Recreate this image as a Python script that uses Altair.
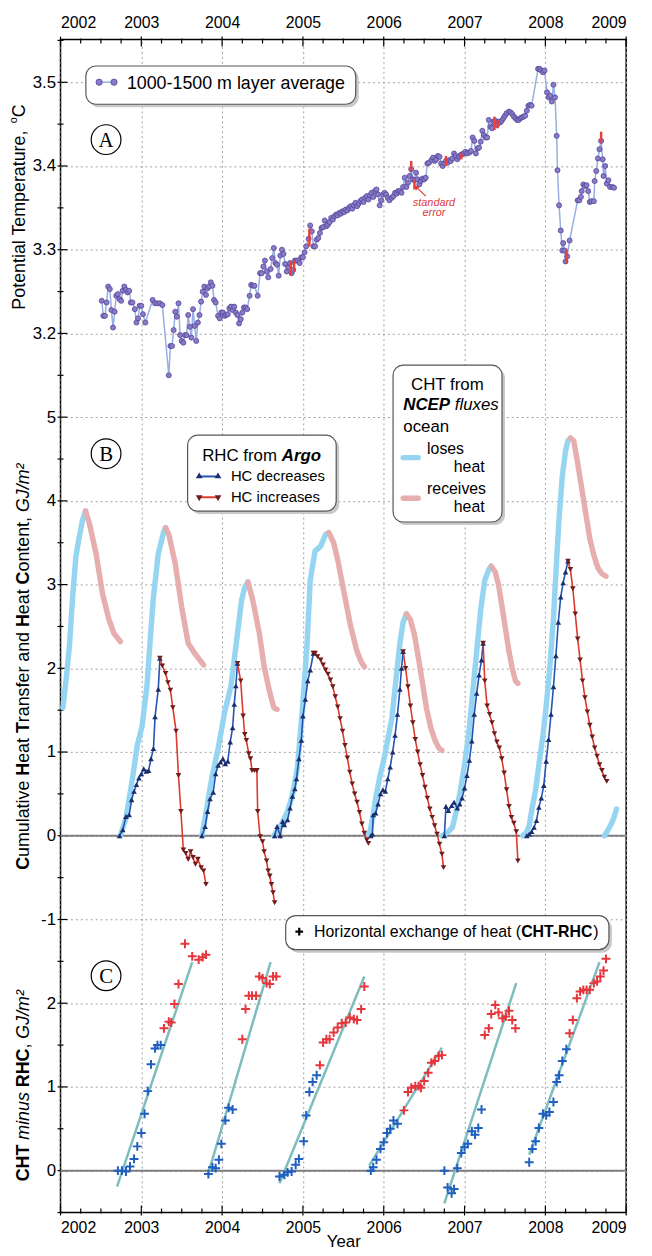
import altair as alt
import pandas as pd

# ---------------- Panel A: 1000-1500 m layer average potential temperature ----------------
a_year = [2002.51, 2002.53, 2002.55, 2002.57, 2002.59, 2002.61, 2002.63, 2002.65, 2002.67, 2002.69,
          2002.71, 2002.73, 2002.75, 2002.77, 2002.79, 2002.81, 2002.83, 2002.85, 2002.87, 2002.89,
          2002.92, 2002.94, 2002.96, 2002.98, 2003.00, 2003.02, 2003.05, 2003.14, 2003.17, 2003.20,
          2003.23, 2003.26, 2003.34, 2003.36, 2003.38, 2003.40, 2003.42, 2003.44, 2003.46, 2003.48,
          2003.50, 2003.52, 2003.54, 2003.56, 2003.58, 2003.60, 2003.62, 2003.64, 2003.66, 2003.68,
          2003.70, 2003.72, 2003.74, 2003.76, 2003.78, 2003.80, 2003.82, 2003.84, 2003.86, 2003.88,
          2003.90, 2003.92, 2003.95, 2003.97, 2003.99, 2004.01, 2004.03, 2004.05, 2004.07, 2004.09,
          2004.11, 2004.13, 2004.15, 2004.17, 2004.19, 2004.21, 2004.23, 2004.25, 2004.27, 2004.29,
          2004.31, 2004.34, 2004.36, 2004.38, 2004.40, 2004.44, 2004.47, 2004.49, 2004.51, 2004.53,
          2004.55, 2004.57, 2004.60, 2004.62, 2004.64, 2004.66, 2004.68, 2004.70, 2004.72, 2004.74,
          2004.76, 2004.78, 2004.80, 2004.82, 2004.84, 2004.86, 2004.88, 2004.90, 2004.92, 2004.94,
          2004.96, 2004.98, 2005.00, 2005.02, 2005.04, 2005.07, 2005.09, 2005.11, 2005.13, 2005.15,
          2005.17, 2005.19, 2005.21, 2005.23, 2005.25, 2005.27, 2005.29, 2005.31, 2005.33, 2005.35,
          2005.37, 2005.39, 2005.41, 2005.43, 2005.45, 2005.47, 2005.49, 2005.51, 2005.53, 2005.55,
          2005.57, 2005.59, 2005.61, 2005.63, 2005.65, 2005.67, 2005.69, 2005.71, 2005.73, 2005.75,
          2005.77, 2005.79, 2005.81, 2005.83, 2005.85, 2005.87, 2005.89, 2005.91, 2005.93, 2005.95,
          2005.97, 2005.99, 2006.01, 2006.03, 2006.05, 2006.07, 2006.10, 2006.12, 2006.14, 2006.16,
          2006.18, 2006.20, 2006.22, 2006.24, 2006.26, 2006.28, 2006.30, 2006.32, 2006.34, 2006.36,
          2006.38, 2006.40, 2006.42, 2006.44, 2006.46, 2006.48, 2006.50, 2006.52, 2006.54, 2006.56,
          2006.59, 2006.61, 2006.63, 2006.65, 2006.67, 2006.69, 2006.71, 2006.73, 2006.75, 2006.77,
          2006.79, 2006.81, 2006.83, 2006.85, 2006.87, 2006.89, 2006.91, 2006.93, 2006.95, 2006.97,
          2006.99, 2007.01, 2007.03, 2007.06, 2007.08, 2007.10, 2007.12, 2007.14, 2007.16, 2007.18,
          2007.20, 2007.22, 2007.24, 2007.26, 2007.28, 2007.30, 2007.32, 2007.34, 2007.36, 2007.38,
          2007.40, 2007.42, 2007.44, 2007.46, 2007.48, 2007.50, 2007.52, 2007.55, 2007.57, 2007.59,
          2007.61, 2007.63, 2007.65, 2007.67, 2007.69, 2007.71, 2007.73, 2007.75, 2007.77, 2007.79,
          2007.81, 2007.83, 2007.91, 2007.93, 2007.95, 2007.97, 2007.99, 2008.02, 2008.04, 2008.06,
          2008.08, 2008.10, 2008.12, 2008.14, 2008.15, 2008.17, 2008.19, 2008.21, 2008.22, 2008.24,
          2008.25, 2008.27, 2008.30, 2008.40, 2008.42, 2008.44, 2008.45, 2008.47, 2008.49, 2008.51,
          2008.53, 2008.55, 2008.57, 2008.60, 2008.61, 2008.63, 2008.65, 2008.67, 2008.69, 2008.71,
          2008.72, 2008.74, 2008.76, 2008.78, 2008.80, 2008.83, 2008.85]
a_temp = [3.239, 3.221, 3.221, 3.237, 3.256, 3.253, 3.228, 3.207, 3.226, 3.245,
          3.247, 3.241, 3.239, 3.251, 3.256, 3.252, 3.249, 3.251, 3.237, 3.237,
          3.229, 3.213, 3.218, 3.233, 3.233, 3.223, 3.213, 3.240, 3.236, 3.236,
          3.236, 3.234, 3.150, 3.185, 3.185, 3.204, 3.226, 3.220, 3.236, 3.198,
          3.191, 3.189, 3.198, 3.198, 3.222, 3.208, 3.195, 3.229, 3.209, 3.191,
          3.213, 3.222, 3.238, 3.250, 3.256, 3.246, 3.254, 3.256, 3.261, 3.257,
          3.240, 3.237, 3.221, 3.218, 3.225, 3.225, 3.221, 3.222, 3.223, 3.230,
          3.232, 3.228, 3.232, 3.225, 3.222, 3.212, 3.217, 3.225, 3.231, 3.231,
          3.229, 3.245, 3.258, 3.257, 3.257, 3.245, 3.272, 3.272, 3.280, 3.287,
          3.274, 3.267, 3.277, 3.290, 3.302, 3.284, 3.282, 3.269, 3.293, 3.300,
          3.295, 3.283, 3.274, 3.279, 3.284, 3.272, 3.276, 3.287, 3.287, 3.287,
          3.284, 3.291, 3.291, 3.297, 3.304, 3.313, 3.329, 3.322, 3.304, 3.304,
          3.312, 3.314, 3.320, 3.326, 3.327, 3.335, 3.328, 3.330, 3.333, 3.338,
          3.336, 3.340, 3.342, 3.341, 3.344, 3.343, 3.346, 3.345, 3.348, 3.347,
          3.350, 3.352, 3.349, 3.353, 3.356, 3.352, 3.355, 3.358, 3.360, 3.357,
          3.362, 3.364, 3.360, 3.365, 3.368, 3.363, 3.370, 3.372, 3.366, 3.353,
          3.359, 3.366, 3.368, 3.366, 3.362, 3.359, 3.362, 3.364, 3.368, 3.367,
          3.370, 3.370, 3.368, 3.375, 3.386, 3.375, 3.380, 3.388, 3.396, 3.384,
          3.383, 3.392, 3.384, 3.378, 3.382, 3.385, 3.384, 3.386, 3.403, 3.404,
          3.407, 3.410, 3.406, 3.408, 3.412, 3.411, 3.403, 3.400, 3.403, 3.406,
          3.404, 3.407, 3.406, 3.409, 3.415, 3.412, 3.408, 3.411, 3.413, 3.414,
          3.415, 3.417, 3.415, 3.416, 3.418, 3.434, 3.430, 3.415, 3.421, 3.422,
          3.429, 3.442, 3.437, 3.434, 3.434, 3.455, 3.447, 3.445, 3.453, 3.454,
          3.449, 3.453, 3.452, 3.454, 3.457, 3.460, 3.463, 3.465, 3.464, 3.462,
          3.459, 3.457, 3.455, 3.455, 3.457, 3.458, 3.459, 3.460, 3.466, 3.472,
          3.473, 3.472, 3.516, 3.516, 3.514, 3.512, 3.514, 3.488, 3.482, 3.484,
          3.477, 3.497, 3.482, 3.436, 3.395, 3.353, 3.323, 3.299, 3.308, 3.299,
          3.286, 3.292, 3.311, 3.359, 3.359, 3.363, 3.370, 3.378, 3.376, 3.377,
          3.370, 3.357, 3.358, 3.358, 3.382, 3.394, 3.409, 3.420, 3.430, 3.408,
          3.388, 3.400, 3.379, 3.383, 3.375, 3.375, 3.374]

err_year = [2004.85, 2004.89, 2005.08, 2006.34, 2006.38, 2006.77, 2006.96, 2007.37, 2007.41, 2008.26, 2008.69]
err_lo = [3.269, 3.274, 3.304, 3.394, 3.372, 3.400, 3.408, 3.443, 3.445, 3.284, 3.428]
err_hi = [3.286, 3.288, 3.325, 3.406, 3.384, 3.412, 3.415, 3.459, 3.455, 3.300, 3.441]

# ---------------- Panel B: cumulative heat transfer (CHT) ----------------
cht_lose_year = [2002.03, 2002.07, 2002.11, 2002.15, 2002.19, 2002.23, 2002.27, 2002.31,
                 2002.74, 2002.81, 2002.89, 2002.95, 2003.01, 2003.07, 2003.11, 2003.15, 2003.21, 2003.28, 2003.30,
                 2003.75, 2003.81, 2003.87, 2003.95, 2004.03, 2004.11, 2004.17, 2004.24, 2004.28, 2004.32,
                 2004.64, 2004.73, 2004.81, 2004.87, 2004.93, 2004.99, 2005.05, 2005.09, 2005.15, 2005.22, 2005.28, 2005.32,
                 2005.80, 2005.83, 2005.86, 2005.90, 2005.95, 2006.00, 2006.05, 2006.10, 2006.15, 2006.20, 2006.24, 2006.28,
                 2006.72, 2006.76, 2006.80, 2006.85, 2006.90, 2006.95, 2007.00, 2007.05, 2007.10, 2007.15, 2007.20, 2007.25, 2007.30, 2007.33,
                 2007.72, 2007.76, 2007.80, 2007.84, 2007.88, 2007.92, 2007.97, 2008.01, 2008.05, 2008.10, 2008.14, 2008.17, 2008.21, 2008.25, 2008.28, 2008.31,
                 2008.73, 2008.77, 2008.81, 2008.85, 2008.88]
cht_lose_val = [1.53, 1.87, 2.26, 2.85, 3.33, 3.56, 3.76, 3.88,
                0.00, 0.21, 0.68, 1.08, 1.31, 1.79, 2.34, 2.85, 3.37, 3.64, 3.68,
                0.00, 0.33, 0.68, 1.04, 1.47, 1.79, 2.26, 2.81, 2.97, 3.03,
                0.00, 0.13, 0.29, 0.49, 0.80, 1.47, 2.26, 3.05, 3.40, 3.46, 3.60, 3.62,
                0.00, 0.05, 0.20, 0.45, 0.70, 0.90, 1.15, 1.40, 1.85, 2.30, 2.55, 2.65,
                0.00, 0.02, 0.05, 0.10, 0.30, 0.55, 0.85, 1.20, 1.70, 2.20, 2.70, 3.05, 3.18, 3.22,
                0.00, 0.03, 0.12, 0.35, 0.55, 0.85, 1.20, 1.55, 1.95, 2.60, 3.30, 3.80, 4.30, 4.60, 4.72, 4.75,
                0.00, 0.06, 0.13, 0.22, 0.32]
cht_gain_year = [2002.31, 2002.36, 2002.44, 2002.52, 2002.60, 2002.66, 2002.74,
                 2003.30, 2003.34, 2003.42, 2003.50, 2003.58, 2003.66, 2003.77,
                 2004.32, 2004.38, 2004.46, 2004.52, 2004.58, 2004.64, 2004.68,
                 2005.32, 2005.38, 2005.43, 2005.48, 2005.53, 2005.58, 2005.63, 2005.67, 2005.72, 2005.76,
                 2006.28, 2006.33, 2006.38, 2006.43, 2006.48, 2006.53, 2006.58, 2006.63, 2006.68, 2006.72,
                 2007.33, 2007.38, 2007.42, 2007.47, 2007.51, 2007.55, 2007.59, 2007.63, 2007.66,
                 2008.31, 2008.35, 2008.40, 2008.45, 2008.50, 2008.55, 2008.60, 2008.65, 2008.70, 2008.75]
cht_gain_val = [3.88, 3.72, 3.37, 2.89, 2.58, 2.42, 2.32,
                3.68, 3.60, 3.25, 2.73, 2.30, 2.18, 2.04,
                3.03, 2.81, 2.42, 2.02, 1.75, 1.53, 1.51,
                3.62, 3.50, 3.30, 3.05, 2.80, 2.55, 2.35, 2.20, 2.08, 2.02,
                2.65, 2.58, 2.40, 2.12, 1.82, 1.52, 1.30, 1.15, 1.05, 1.02,
                3.22, 3.15, 3.00, 2.70, 2.45, 2.20, 2.00, 1.85, 1.82,
                4.75, 4.72, 4.45, 4.15, 3.85, 3.55, 3.35, 3.20, 3.13, 3.10]

# ---------------- Panel B: heat content from Argo (RHC) ----------------
rhc_dec_year = [2002.73, 2002.77, 2002.81, 2002.85, 2002.88, 2002.91, 2002.94, 2002.97, 2003.00, 2003.03, 2003.06, 2003.09, 2003.12, 2003.15, 2003.17, 2003.21, 2003.23,
                2003.75, 2003.79, 2003.82, 2003.85, 2003.89, 2003.92, 2003.95, 2003.98, 2004.01, 2004.04, 2004.07, 2004.10, 2004.13, 2004.15, 2004.17, 2004.19,
                2004.65, 2004.68, 2004.72, 2004.75, 2004.77, 2004.81, 2004.84, 2004.87, 2004.90, 2004.92, 2004.95, 2004.98, 2005.00, 2005.03, 2005.06, 2005.09, 2005.13,
                2005.84, 2005.86, 2005.87, 2005.90, 2005.93, 2005.96, 2005.99, 2006.02, 2006.05, 2006.08, 2006.11, 2006.14, 2006.17, 2006.20, 2006.22, 2006.24,
                2006.75, 2006.77, 2006.80, 2006.84, 2006.87, 2006.91, 2006.94, 2006.97, 2007.00, 2007.03, 2007.06, 2007.09, 2007.12, 2007.15, 2007.18, 2007.21, 2007.23,
                2007.77, 2007.80, 2007.83, 2007.86, 2007.89, 2007.92, 2007.95, 2007.98, 2008.01, 2008.04, 2008.07, 2008.10, 2008.13, 2008.16, 2008.19, 2008.22, 2008.25, 2008.28]
rhc_dec_val = [0.00, 0.07, 0.23, 0.25, 0.43, 0.53, 0.61, 0.69, 0.74, 0.80, 0.77, 0.78, 0.92, 1.04, 1.42, 1.75, 2.12,
               0.00, 0.11, 0.29, 0.44, 0.52, 0.74, 0.84, 0.88, 0.92, 0.86, 0.89, 1.12, 1.29, 1.57, 1.79, 2.06,
               0.00, 0.11, 0.00, 0.17, 0.13, 0.19, 0.33, 0.47, 0.56, 0.68, 0.92, 1.14, 1.43, 1.63, 1.85, 1.98, 2.18,
               0.00, 0.02, 0.25, 0.27, 0.38, 0.50, 0.55, 0.53, 0.68, 0.82, 1.00, 1.20, 1.45, 1.75, 2.00, 2.20,
               0.00, 0.35, 0.30, 0.36, 0.40, 0.33, 0.38, 0.45, 0.57, 0.72, 0.90, 1.13, 1.45, 1.70, 1.92, 2.10, 2.30,
               0.00, 0.02, 0.05, 0.10, 0.18, 0.34, 0.45, 0.60, 0.89, 1.15, 1.45, 1.78, 2.15, 2.55, 2.85, 3.02, 3.15, 3.28]
rhc_inc_year = [2003.23, 2003.26, 2003.30, 2003.33, 2003.36, 2003.39, 2003.43, 2003.46, 2003.49, 2003.52, 2003.55, 2003.58, 2003.61, 2003.64, 2003.67, 2003.70, 2003.74, 2003.77, 2003.80,
                2004.19, 2004.23, 2004.26, 2004.28, 2004.30, 2004.33, 2004.35, 2004.37, 2004.40, 2004.43, 2004.44, 2004.47, 2004.50, 2004.52, 2004.55, 2004.57, 2004.59, 2004.61, 2004.63, 2004.65,
                2005.13, 2005.15, 2005.18, 2005.22, 2005.25, 2005.28, 2005.31, 2005.34, 2005.37, 2005.40, 2005.43, 2005.46, 2005.49, 2005.52, 2005.55, 2005.58, 2005.61, 2005.64, 2005.67, 2005.70, 2005.73, 2005.76, 2005.79, 2005.81,
                2006.24, 2006.27, 2006.30, 2006.33, 2006.36, 2006.39, 2006.42, 2006.45, 2006.48, 2006.51, 2006.54, 2006.57, 2006.60, 2006.63, 2006.66, 2006.69, 2006.72, 2006.74,
                2007.23, 2007.25, 2007.28, 2007.31, 2007.34, 2007.37, 2007.40, 2007.43, 2007.46, 2007.49, 2007.52, 2007.55, 2007.58, 2007.61, 2007.64, 2007.66,
                2008.28, 2008.31, 2008.34, 2008.37, 2008.40, 2008.43, 2008.46, 2008.49, 2008.52, 2008.55, 2008.58, 2008.61, 2008.64, 2008.67, 2008.70, 2008.73, 2008.76]
rhc_inc_val = [2.12, 2.03, 1.94, 1.83, 1.74, 1.53, 1.25, 0.72, 0.29, -0.17, -0.21, -0.28, -0.19, -0.26, -0.34, -0.28, -0.38, -0.42, -0.58,
               2.06, 1.85, 1.43, 1.21, 1.14, 0.98, 0.92, 0.78, 0.78, 0.78, 0.29, -0.01, -0.07, -0.19, -0.30, -0.42, -0.48, -0.58, -0.68, -0.80,
               2.18, 2.18, 2.14, 2.10, 2.04, 1.98, 1.93, 1.86, 1.78, 1.66, 1.54, 1.40, 1.25, 1.08, 0.93, 0.76, 0.62, 0.50, 0.40, 0.28, 0.14, 0.03, -0.05, -0.09,
               2.20, 2.00, 1.78, 1.55, 1.35, 1.15, 1.00, 0.85, 0.72, 0.58, 0.45, 0.32, 0.22, 0.12, 0.02, -0.10, -0.22, -0.38,
               2.30, 1.85, 1.55, 1.45, 1.35, 1.22, 1.12, 1.05, 0.92, 0.75, 0.55, 0.35, 0.22, 0.15, 0.05, -0.30,
               3.28, 3.18, 2.95, 2.65, 2.35, 2.10, 1.85, 1.65, 1.48, 1.32, 1.18, 1.05, 0.95, 0.85, 0.78, 0.70, 0.65]

# ---------------- Panel C: CHT minus RHC ----------------
c_dec_year = [2002.71, 2002.76, 2002.81, 2002.86, 2002.91, 2002.95, 2003.00, 2003.04, 2003.08, 2003.12, 2003.17, 2003.20, 2003.24,
              2003.83, 2003.88, 2003.92, 2003.96, 2003.99, 2004.04, 2004.08, 2004.13,
              2004.71, 2004.77, 2004.81, 2004.86, 2004.91, 2004.95, 2005.01, 2005.04, 2005.08, 2005.12, 2005.17,
              2005.84, 2005.87, 2005.91, 2005.96, 2006.00, 2006.04, 2006.08, 2006.12, 2006.17,
              2006.75, 2006.79, 2006.84, 2006.87, 2006.91, 2006.96, 2007.00, 2007.04, 2007.09, 2007.13, 2007.17, 2007.21,
              2007.80, 2007.84, 2007.88, 2007.92, 2007.97, 2008.01, 2008.05, 2008.10, 2008.14, 2008.17, 2008.21, 2008.26]
c_dec_val = [0.00, 0.00, -0.01, 0.05, 0.14, 0.29, 0.45, 0.68, 0.95, 1.27, 1.46, 1.50, 1.50,
             -0.04, 0.04, 0.03, 0.13, 0.32, 0.60, 0.75, 0.73,
             -0.07, -0.05, -0.02, -0.01, 0.07, 0.14, 0.35, 0.66, 0.94, 1.06, 1.14,
             0.00, 0.04, 0.13, 0.26, 0.34, 0.45, 0.50, 0.60, 0.56,
             0.00, -0.20, -0.27, -0.22, 0.03, 0.21, 0.28, 0.32, 0.47, 0.43, 0.51, 0.73,
             0.10, 0.26, 0.35, 0.51, 0.68, 0.66, 0.70, 0.82, 1.06, 1.14, 1.31, 1.45]
c_inc_year = [2003.28, 2003.34, 2003.37, 2003.41, 2003.46, 2003.54, 2003.63, 2003.71, 2003.76, 2003.80,
              2004.25, 2004.29, 2004.33, 2004.37, 2004.42, 2004.46, 2004.50, 2004.55, 2004.59, 2004.63, 2004.67,
              2005.21, 2005.25, 2005.29, 2005.33, 2005.38, 2005.43, 2005.48, 2005.53, 2005.58, 2005.63, 2005.67, 2005.72, 2005.76,
              2006.25, 2006.30, 2006.34, 2006.39, 2006.43, 2006.46, 2006.50, 2006.55, 2006.59, 2006.63, 2006.68, 2006.72,
              2007.25, 2007.30, 2007.33, 2007.38, 2007.42, 2007.47, 2007.51, 2007.55, 2007.59, 2007.63,
              2008.30, 2008.34, 2008.39, 2008.43, 2008.47, 2008.51, 2008.55, 2008.60, 2008.64, 2008.68, 2008.72, 2008.75]
c_inc_val = [1.70, 1.78, 1.77, 1.99, 2.23, 2.71, 2.56, 2.52, 2.55, 2.58,
             1.57, 1.93, 2.09, 2.09, 2.09, 2.32, 2.30, 2.24, 2.23, 2.32, 2.32,
             1.26, 1.53, 1.57, 1.57, 1.65, 1.71, 1.76, 1.77, 1.83, 1.81, 1.80, 1.93, 2.20,
             0.72, 0.94, 0.99, 1.01, 1.01, 0.99, 1.07, 1.17, 1.29, 1.31, 1.37, 1.38,
             1.62, 1.70, 1.87, 1.98, 1.89, 1.82, 1.84, 1.91, 1.80, 1.70,
             1.64, 1.80, 2.06, 2.14, 2.16, 2.16, 2.16, 2.24, 2.26, 2.32, 2.39, 2.53]
reg_x1 = [2002.70, 2003.83, 2004.71, 2005.82, 2006.75, 2007.80]
reg_y1 = [-0.19, -0.03, -0.15, 0.06, -0.39, 0.19]
reg_x2 = [2003.63, 2004.60, 2005.76, 2006.72, 2007.64, 2008.67]
reg_y2 = [2.49, 2.49, 2.32, 1.47, 2.24, 2.49]

# ---------------- axes ----------------
year_ticks = [2002, 2003, 2004, 2005, 2006, 2007, 2008, 2009]
y_tick_pos = list(range(14))
y_tick_labels = ["0", "1", "2", "-1", "0", "1", "2", "3", "4", "5", "3.2", "3.3", "3.4", "3.5"]
arrow_from = (2006.52, 3.364)
arrow_to = (2006.40, 3.375)

# ---------------- layout / helpers ----------------
W, H = 571, 1184
FONT = "Liberation Sans"
one = pd.DataFrame({"k": [0]})

AR = {' ': 278, 'a': 556, 'b': 556, 'c': 500, 'd': 556, 'e': 556, 'f': 278, 'g': 556, 'h': 556, 'i': 222,
      'j': 222, 'k': 500, 'l': 222, 'm': 833, 'n': 556, 'o': 556, 'p': 556, 'q': 556, 'r': 333, 's': 500,
      't': 278, 'u': 556, 'v': 500, 'w': 722, 'x': 500, 'y': 500, 'z': 500, 'A': 667, 'C': 722, 'E': 667,
      'G': 778, 'H': 722, 'J': 500, 'N': 722, 'P': 667, 'R': 722, 'T': 611, ',': 278, '.': 278, '/': 278,
      '-': 333, '(': 333, ')': 333, '\u00b2': 333, '+': 584}
ARB = {' ': 278, 'a': 556, 'c': 556, 'e': 556, 'g': 611, 'o': 611, 'r': 389, 'A': 722, 'C': 722, 'E': 667,
       'H': 722, 'N': 722, 'P': 667, 'R': 722, 'T': 611, '-': 333}


def tw(s, size, bold=False):
    tot = 0
    for ch in s:
        if bold and ch in ARB:
            tot += ARB[ch]
        else:
            tot += AR.get(ch, 556)
    return tot * size / 1000.0


def u_a(t):
    return 10.0 + (t - 3.2) * 10.0


def u_b(v):
    return v + 4.0


def segments(xs, gap=0.2):
    ids, k = [], 0
    for i, x in enumerate(xs):
        if i > 0 and x - xs[i - 1] > gap:
            k += 1
        ids.append(k)
    return ids


xsc = alt.Scale(domain=[2002, 2009], nice=False, zero=False)
ysc = alt.Scale(domain=[-0.5, 13.51], nice=False, zero=False)


def ex(f="x"):
    return alt.X(f + ":Q", scale=xsc, axis=None)


def ey(f="u"):
    return alt.Y(f + ":Q", scale=ysc, axis=None)


def txt(s, x, y, size=16, weight="normal", style="normal", align="left", angle=0, color="black", font=FONT):
    return alt.Chart(one).mark_text(text=s, fontSize=size, fontWeight=weight, fontStyle=style, align=align,
                                    baseline="middle", angle=angle, color=color, font=font).encode(
        x=alt.value(x), y=alt.value(y))


def vtitle(segs, xc, yc):
    total = sum(tw(s, sz, b) for s, b, it, sz, dx in segs)
    y = yc + total / 2.0
    out = []
    for s, b, it, sz, dx in segs:
        lead = len(s) - len(s.lstrip())
        if s.strip():
            out.append(txt(s.strip(), xc + dx, y - tw(s[:lead], sz, b), size=sz,
                           weight="bold" if b else "normal", style="italic" if it else "normal", angle=270))
        y -= tw(s, sz, b)
    return out


def hline(segs, x0, y):
    out = []
    x = x0
    for s, b, it, sz in segs:
        lead = len(s) - len(s.lstrip())
        if s.strip():
            out.append(txt(s.strip(), x + tw(s[:lead], sz, b), y, size=sz, weight="bold" if b else "normal",
                           style="italic" if it else "normal"))
        x += tw(s, sz, b)
    return out


def box(x1, y1, x2, y2):
    sh = alt.Chart(one).mark_rect(cornerRadius=10, fill="#c9c9c9").encode(
        x=alt.value(x1 + 3), x2=alt.value(x2 + 3), y=alt.value(y1 + 3), y2=alt.value(y2 + 3))
    bx = alt.Chart(one).mark_rect(cornerRadius=10, fill="white", stroke="#555555", strokeWidth=1.2).encode(
        x=alt.value(x1), x2=alt.value(x2), y=alt.value(y1), y2=alt.value(y2))
    return [sh, bx]


# ---------------- data frames ----------------
dfA = pd.DataFrame({"x": a_year, "u": [u_a(t) for t in a_temp]})
dfErr = pd.DataFrame({"x": err_year, "u": [u_a(t) for t in err_lo], "u2": [u_a(t) for t in err_hi]})
dfCL = pd.DataFrame({"x": cht_lose_year, "u": [u_b(v) for v in cht_lose_val], "seg": segments(cht_lose_year)})
dfCG = pd.DataFrame({"x": cht_gain_year, "u": [u_b(v) for v in cht_gain_val], "seg": segments(cht_gain_year)})
dfRD = pd.DataFrame({"x": rhc_dec_year, "u": [u_b(v) for v in rhc_dec_val], "seg": segments(rhc_dec_year)})
dfRI = pd.DataFrame({"x": rhc_inc_year, "u": [u_b(v) for v in rhc_inc_val], "seg": segments(rhc_inc_year)})
dfCD = pd.DataFrame({"x": c_dec_year, "u": c_dec_val})
dfCI = pd.DataFrame({"x": c_inc_year, "u": c_inc_val})
dfReg = pd.DataFrame({"x": reg_x1, "u": reg_y1, "x2": reg_x2, "u2": reg_y2})
dfZero = pd.DataFrame({"u": [0.0, u_b(0.0)]})
dfArrow = pd.DataFrame({"x": [arrow_from[0]], "u": [u_a(arrow_from[1])],
                        "x2": [arrow_to[0]], "u2": [u_a(arrow_to[1])]})
dfHead = pd.DataFrame({"x": [arrow_to[0]], "u": [u_a(arrow_to[1])]})

minor_years = [y + q for y in year_ticks[:-1] for q in (0.25, 0.5, 0.75)]
minor_u = [k + 0.5 for k in range(-1, 14)]
label_expr = "[" + ",".join("'%s'" % s for s in y_tick_labels) + "][round(datum.value)]"

axis_common = dict(labelFont=FONT, labelColor="black", ticks=False, tickSize=0, domain=False)
bottom_axis = alt.Axis(orient="bottom", values=year_ticks, format="d", title="Year", titleFont=FONT,
                       titleFontSize=17, titleFontWeight="normal", titleColor="black", titlePadding=-2,
                       labelFontSize=16, labelPadding=7, grid=True, gridDash=[2, 3], gridColor="#a0a0a0",
                       **axis_common)
top_axis = alt.Axis(orient="top", values=year_ticks, format="d", title=None, labelFontSize=16,
                    labelPadding=9, grid=False, **axis_common)
left_axis = alt.Axis(orient="left", values=y_tick_pos, labelExpr=label_expr, title=None, labelFontSize=17,
                     labelPadding=5, grid=True, gridDash=[2, 3], gridColor="#a0a0a0", **axis_common)

layers = []
dfYears = pd.DataFrame({"x": year_ticks})
layers.append(alt.Chart(dfYears).mark_rule(color="black", strokeWidth=1.2).encode(
    x=alt.X("x:Q", scale=xsc, axis=bottom_axis), y=alt.value(H - 7), y2=alt.value(H + 3)))
layers.append(alt.Chart(dfYears).mark_rule(color="black", strokeWidth=1.2).encode(
    x=alt.X("x:Q", scale=xsc, axis=top_axis), y=alt.value(-3), y2=alt.value(7)))
dfMinor = pd.DataFrame({"x": minor_years})
layers.append(alt.Chart(dfMinor).mark_rule(color="black", strokeWidth=1.2).encode(
    x=ex(), y=alt.value(H - 4), y2=alt.value(H + 1)))
layers.append(alt.Chart(dfMinor).mark_rule(color="black", strokeWidth=1.2).encode(
    x=ex(), y=alt.value(-1), y2=alt.value(4)))
layers.append(alt.Chart(pd.DataFrame({"u": y_tick_pos})).mark_rule(color="black", strokeWidth=1.2).encode(
    y=alt.Y("u:Q", scale=ysc, axis=left_axis), x=alt.value(-3), x2=alt.value(7)))
layers.append(alt.Chart(pd.DataFrame({"u": minor_u})).mark_rule(color="black", strokeWidth=1.2).encode(
    y=ey(), x=alt.value(-3), x2=alt.value(3)))

# zero lines
layers.append(alt.Chart(dfZero).mark_rule(color="#7f7f7f", strokeWidth=2).encode(
    y=ey(), x=alt.value(0), x2=alt.value(W)))

# panel A
layers.append(alt.Chart(dfA).mark_line(color="#97aee2", strokeWidth=1.5).encode(x=ex(), y=ey()))
layers.append(alt.Chart(dfA).mark_point(shape="circle", filled=True, size=26, color="#8a7bc8",
                                        stroke="#54449a", strokeWidth=0.8, opacity=1).encode(x=ex(), y=ey()))
layers.append(alt.Chart(dfErr).mark_rule(color="#e8403c", strokeWidth=2.5).encode(x=ex(), y=ey(), y2="u2:Q"))

# panel B: CHT
layers.append(alt.Chart(dfCL).mark_line(color="#96d5f1", strokeWidth=5.5, strokeCap="round",
                                        strokeJoin="round").encode(x=ex(), y=ey(), detail="seg:N"))
layers.append(alt.Chart(dfCG).mark_line(color="#e6aeae", strokeWidth=5.5, strokeCap="round",
                                        strokeJoin="round").encode(x=ex(), y=ey(), detail="seg:N"))
# panel B: RHC
layers.append(alt.Chart(dfRD).mark_line(color="#2553b0", strokeWidth=1.6).encode(x=ex(), y=ey(), detail="seg:N"))
layers.append(alt.Chart(dfRI).mark_line(color="#dc3a2c", strokeWidth=1.6).encode(x=ex(), y=ey(), detail="seg:N"))
layers.append(alt.Chart(dfRD).mark_point(shape="triangle-up", filled=True, size=32, color="#1c2d6c",
                                         opacity=1).encode(x=ex(), y=ey()))
layers.append(alt.Chart(dfRI).mark_point(shape="triangle-down", filled=True, size=32, color="#6e1c1c",
                                         opacity=1).encode(x=ex(), y=ey()))

# panel C
layers.append(alt.Chart(dfReg).mark_rule(color="#7dbdbd", strokeWidth=2.5).encode(
    x=ex(), y=ey(), x2="x2:Q", y2="u2:Q"))
plus = "M-1,0L1,0M0,-1L0,1"
layers.append(alt.Chart(dfCD).mark_point(shape=plus, filled=False, size=80, color="#1f5fc0", strokeWidth=2,
                                         opacity=1).encode(x=ex(), y=ey()))
layers.append(alt.Chart(dfCI).mark_point(shape=plus, filled=False, size=80, color="#e5363c", strokeWidth=2,
                                         opacity=1).encode(x=ex(), y=ey()))

# standard error annotation
layers.append(alt.Chart(dfArrow).mark_rule(color="#e0393e", strokeWidth=1.2).encode(
    x=ex(), y=ey(), x2="x2:Q", y2="u2:Q"))
layers.append(alt.Chart(dfHead).mark_point(shape="triangle-up", angle=315, filled=True, size=30,
                                           color="#e0393e", opacity=1).encode(x=ex(), y=ey()))
layers.append(txt("standard", 377, 165, size=11, style="italic", align="center", color="#e0393e"))
layers.append(txt("error", 377, 175.5, size=11, style="italic", align="center", color="#e0393e"))

# legend A
layers += box(25.6, 26.7, 298, 65.3)
layers.append(alt.Chart(one).mark_rule(color="#97aee2", strokeWidth=1.5).encode(
    x=alt.value(39), x2=alt.value(54), y=alt.value(43)))
for px in (39, 54):
    layers.append(alt.Chart(one).mark_point(shape="circle", filled=True, size=40, color="#8a7bc8",
                                            stroke="#54449a", strokeWidth=0.8, opacity=1).encode(
        x=alt.value(px), y=alt.value(43)))
layers.append(txt("1000-1500 m layer average", 67, 44.5, size=18))

# legend B1 (RHC from Argo)
layers += box(128.3, 399.3, 278.3, 476)
t1 = [("RHC from ", False, False, 17), ("Argo", True, True, 17)]
w1 = sum(tw(s, sz, b) for s, b, it, sz in t1)
layers += hline(t1, 203 - w1 / 2, 420)
layers.append(alt.Chart(one).mark_rule(color="#2553b0", strokeWidth=2).encode(
    x=alt.value(140), x2=alt.value(159), y=alt.value(441)))
layers.append(alt.Chart(one).mark_rule(color="#dc3a2c", strokeWidth=2).encode(
    x=alt.value(140), x2=alt.value(159), y=alt.value(462)))
for px in (140, 159):
    layers.append(alt.Chart(one).mark_point(shape="triangle-up", filled=True, size=45, color="#1c2d6c",
                                            opacity=1).encode(x=alt.value(px), y=alt.value(440)))
    layers.append(alt.Chart(one).mark_point(shape="triangle-down", filled=True, size=45, color="#6e1c1c",
                                            opacity=1).encode(x=alt.value(px), y=alt.value(463)))
layers.append(txt("HC decreases", 172, 441, size=15))
layers.append(txt("HC increases", 172, 462, size=15))

# legend B2 (CHT from NCEP fluxes)
layers += box(335.7, 328.7, 445.7, 487)
layers.append(txt("CHT from", 390.5, 349, size=17, align="center"))
layers += hline([("NCEP", True, True, 17), (" fluxes", False, True, 17)], 346, 369)
layers.append(txt("ocean", 346, 391, size=17))
layers.append(alt.Chart(one).mark_rule(color="#96d5f1", strokeWidth=5.5, strokeCap="round").encode(
    x=alt.value(346), x2=alt.value(361), y=alt.value(422)))
layers.append(txt("loses", 370, 413, size=16))
layers.append(txt("heat", 397, 431, size=16))
layers.append(alt.Chart(one).mark_rule(color="#e6aeae", strokeWidth=5.5, strokeCap="round").encode(
    x=alt.value(346), x2=alt.value(361), y=alt.value(463)))
layers.append(txt("receives", 370, 454, size=16))
layers.append(txt("heat", 397, 472, size=16))

# legend C
layers += box(227.3, 884.3, 553.6, 918.7)
layers.append(alt.Chart(one).mark_point(shape=plus, filled=False, size=60, color="black", strokeWidth=2.2,
                                        opacity=1).encode(x=alt.value(241), y=alt.value(900.5)))
layers += hline([("Horizontal exchange of heat (", False, False, 16), ("CHT-RHC", True, False, 16),
                 (")", False, False, 16)], 256, 901)

# circled panel letters
for letter, py in (("A", 101), ("B", 418), ("C", 945)):
    layers.append(alt.Chart(one).mark_point(shape="circle", filled=False, size=900, color="black",
                                            strokeWidth=1.2, opacity=1).encode(x=alt.value(46), y=alt.value(py)))
    layers.append(txt(letter, 46, py + 1, size=21, align="center", font="Liberation Serif"))

# rotated y titles
layers += vtitle([("Potential Temperature, ", False, False, 18, 0), ("o", False, False, 11, -6),
                  ("C", False, False, 18, 0)], -41, 169)
layers += vtitle([("C", True, False, 18, 0), ("umulative ", False, False, 18, 0), ("H", True, False, 18, 0),
                  ("eat ", False, False, 18, 0), ("T", True, False, 18, 0), ("ransfer and ", False, False, 18, 0),
                  ("H", True, False, 18, 0), ("eat ", False, False, 18, 0), ("C", True, False, 18, 0),
                  ("ontent, ", False, False, 18, 0), ("GJ/m\u00b2", False, True, 18, 0)], -37, 633)
layers += vtitle([("CHT", True, False, 18, 0), (" ", False, False, 18, 0), ("minus", False, True, 18, 0),
                  (" ", False, False, 18, 0), ("RHC", True, False, 18, 0), (", ", False, False, 18, 0),
                  ("GJ/m\u00b2", False, True, 18, 0)], -37, 1056)

chart = alt.layer(*layers).resolve_axis(x="independent", y="independent").properties(
    width=W, height=H,
    padding={"left": 53, "top": 26, "right": 18, "bottom": 36},
    autosize=alt.AutoSizeParams(type="none"),
).configure_view(stroke="black", strokeWidth=1.5)

chart.save("out.html", embed_options={"renderer": "svg", "actions": False})
